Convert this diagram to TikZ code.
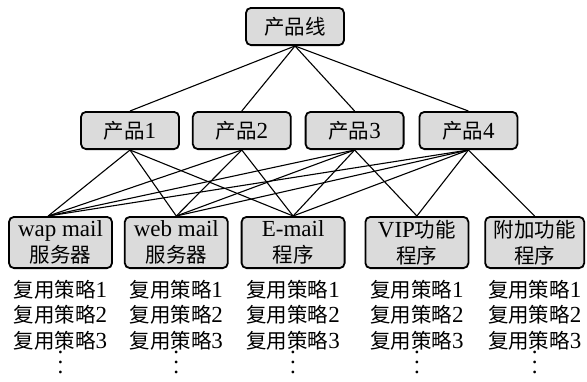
\documentclass[tikz,border=0pt]{standalone}
\usepackage{fontspec}
\setmainfont{Liberation Serif}
\newfontfamily\cjk[Scale=0.89]{Noto Sans CJK SC}
\usetikzlibrary{positioning}

\newcommand{\zh}[1]{{\cjk #1}}
\newcommand{\diafont}{\fontsize{23}{25.5}\selectfont}
\newcommand{\vdotz}{\vbox{\baselineskip10pt\lineskiplimit-20pt\hbox{.}\hbox{.}\hbox{.}}}

\begin{document}
\begin{tikzpicture}[
    x=1pt, y=1pt,
    box/.style={rectangle, rounded corners=5pt, draw, line width=1.8pt, fill=gray!28, align=center, font=\diafont, inner sep=2pt},
    prod/.style={box, minimum width=98pt, minimum height=37.2pt},
    app/.style={box, minimum width=103pt, minimum height=51.2pt},
    list/.style={align=center, font=\diafont, inner sep=0pt},
    link/.style={line width=1.1pt}
]
    \useasboundingbox (0,0) rectangle (587,-381);

    \node[prod] (line) at (295,-26.5) {\zh{产品线}};
    \node[prod] (p1) at (130,-130.5) {\zh{产品}1};
    \node[prod, right=12pt of p1] (p2) {\zh{产品}2};
    \node[prod, right=13pt of p2] (p3) {\zh{产品}3};
    \node[prod, right=14pt of p3] (p4) {\zh{产品}4};

    \node[app] (wap) at (60.5,-242.5) {wap mail\\\zh{服务器}};
    \node[app, right=11pt of wap] (web) {web mail\\\zh{服务器}};
    \node[app, right=12pt of web] (email) {E-mail\\\zh{程序}};
    \node[app, right=19pt of email] (vip) {VIP\zh{功能}\\\zh{程序}};
    \node[app, right=15pt of vip, minimum width=99pt] (extra) {\zh{附加功能}\\\zh{程序}};

    \foreach \n in {wap,web,email,vip,extra}
        \node[list, below=11pt of \n] (\n-list) {\zh{复用策略}1\\\zh{复用策略}2\\\zh{复用策略}3\\\vdotz};

    \foreach \p in {p1,p2,p3,p4}
        \draw[link] (line.south) -- (\p.north);
    \foreach \p in {p1,p2,p3,p4} {
        \draw[link] (\p.south) -- (wap.115);
        \draw[link] (\p.south) -- (web.north);
        \draw[link] (\p.south) -- (email.north);
    }
    \foreach \p in {p3,p4}
        \draw[link] (\p.south) -- (vip.north);
    \draw[link] (p4.south) -- (extra.north);
\end{tikzpicture}
\end{document}
